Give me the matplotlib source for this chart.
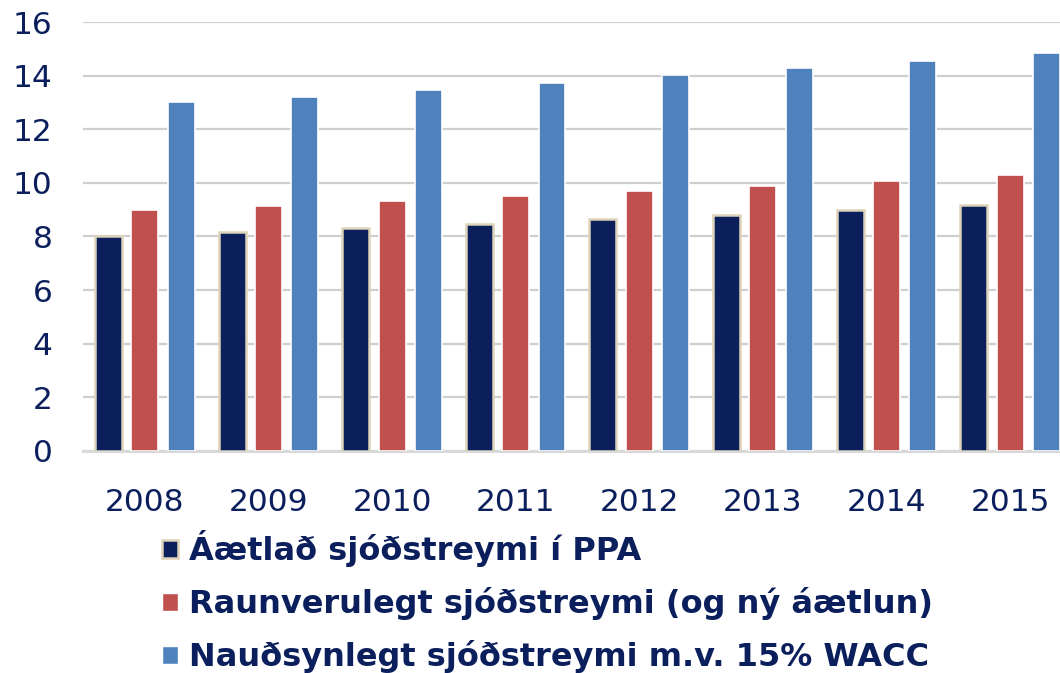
import numpy as np
import matplotlib
matplotlib.use('Agg')
import matplotlib.pyplot as plt
from matplotlib.patches import Patch

# data
years = ['2008', '2009', '2010', '2011', '2012', '2013', '2014', '2015']
aetlad = [8.0, 8.15, 8.32, 8.48, 8.64, 8.82, 8.98, 9.16]
raunverulegt = [9.0, 9.14, 9.32, 9.51, 9.69, 9.89, 10.08, 10.29]
naudsynlegt = [13.0, 13.22, 13.47, 13.73, 14.02, 14.28, 14.56, 14.86]
labels = ['Áætlað sjóðstreymi í PPA',
          'Raunverulegt sjóðstreymi (og ný áætlun)',
          'Nauðsynlegt sjóðstreymi m.v. 15% WACC']

navy = '#0B1F5C'
c_dark = '#0B1F5C'
c_red = '#C0504D'
c_blue = '#4F81BD'
edge_dark = '#DDD3B8'

plt.rcParams['font.family'] = 'DejaVu Sans'

fig = plt.figure(figsize=(10.6, 6.73), dpi=100)
ax = fig.add_axes([0.0783, 0.3299, 0.933, 0.6374])

x = np.arange(len(years))
w = 0.218
off = 0.294

ax.bar(x - off, aetlad, w, color=c_dark, edgecolor=edge_dark, linewidth=1.8, zorder=3)
ax.bar(x, raunverulegt, w, color=c_red, edgecolor='white', linewidth=1.2, zorder=3)
ax.bar(x + off, naudsynlegt, w, color=c_blue, edgecolor='white', linewidth=1.2, zorder=3)

ax.set_xlim(-0.5, 7.5)
ax.set_ylim(0, 16)
ax.set_yticks(np.arange(0, 17, 2))
ax.set_xticks(x)
ax.set_xticklabels(years)

ax.grid(axis='y', color='#CFCFCF', linewidth=1.6, zorder=0)
ax.set_axisbelow(True)
for s in ['top', 'right', 'left']:
    ax.spines[s].set_visible(False)
ax.spines['bottom'].set_color('#D9D9D9')
ax.spines['bottom'].set_linewidth(2.2)

ax.tick_params(axis='both', length=0, colors=navy, labelsize=22.5)
ax.tick_params(axis='y', pad=22)
ax.tick_params(axis='x', pad=27)

handles = [Patch(facecolor=c_dark, edgecolor=edge_dark, linewidth=1.8),
           Patch(facecolor=c_red, edgecolor='white'),
           Patch(facecolor=c_blue, edgecolor='white')]
leg = fig.legend(handles, labels, loc='upper left', bbox_to_anchor=(0.153, 0.2125),
                 frameon=False, borderpad=0, borderaxespad=0,
                 handlelength=0.5, handleheight=0.5, handletextpad=0.33,
                 labelspacing=0.63,
                 prop={'size': 23, 'weight': 'bold'})
for t in leg.get_texts():
    t.set_color(navy)

plt.savefig('out.png', dpi=100)
